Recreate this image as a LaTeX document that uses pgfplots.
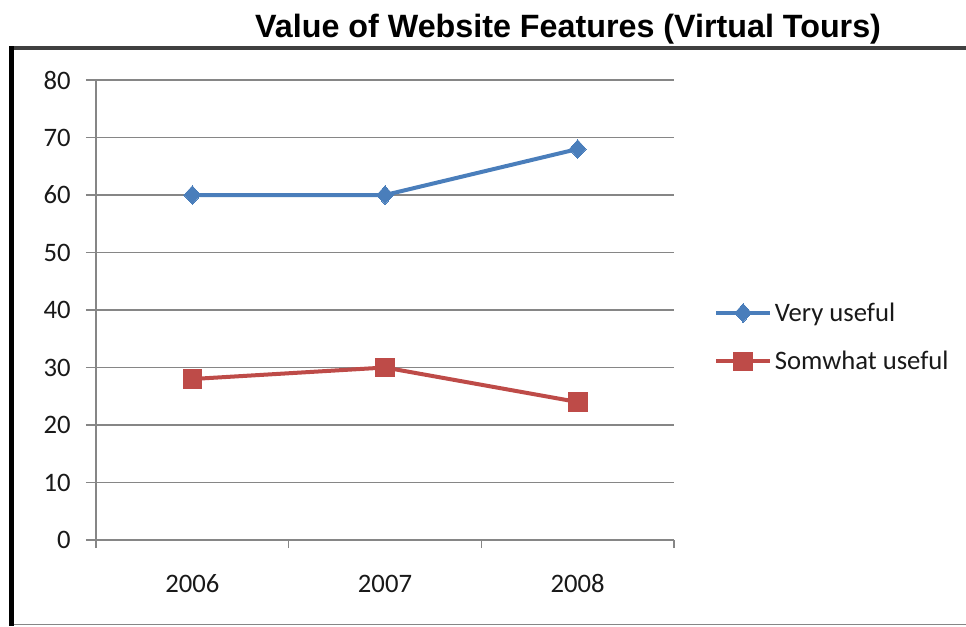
\documentclass[border=0pt]{standalone}
\usepackage{pgfplots}
\pgfplotsset{compat=1.18}
\usepackage{fontspec}
\setmainfont{Carlito}
\newfontfamily\arialfont{Liberation Sans}
\definecolor{vblue}{HTML}{4A7EBB}
\definecolor{sred}{HTML}{BE4B48}
\definecolor{gridgray}{HTML}{868686}
\begin{document}
\begin{tikzpicture}
\path[use as bounding box] (0,0) rectangle (724.5pt,-469.5pt);
% frame
\draw[line width=3pt, color=black!75] (7.5pt,-36pt) -- (724.5pt,-36pt);
\draw[line width=4pt, color=black] (8.5pt,-34.5pt) -- (8.5pt,-469.5pt);
\draw[line width=1pt, color=gridgray] (10.5pt,-468.5pt) -- (724.5pt,-468.5pt);
\node[font=\arialfont\bfseries\fontsize{24.2}{28}\selectfont, anchor=base west, inner sep=0pt] at (191.2pt,-27.75pt) {Value of Website Features (Virtual Tours)};
\begin{axis}[
  at={(72pt,-405pt)}, anchor=south west,
  scale only axis, width=433.5pt, height=345pt,
  xmin=0.5, xmax=3.5, ymin=0, ymax=80,
  axis x line=bottom, axis y line=left,
  axis line style={gridgray, line width=0.8pt, -},
  xtick={1,2,3}, xticklabels={2006,2007,2008},
  major x tick style={draw=none},
  minor xtick={0.5,1.5,2.5,3.5},
  minor x tick style={gridgray, line width=0.8pt},
  minor tick length=6pt,
  ytick={0,10,...,80},
  major y tick style={gridgray, line width=0.8pt},
  major tick length=7.5pt,
  tick align=outside,
  ymajorgrids, grid style={gridgray, line width=0.8pt},
  /pgf/number format/assume math mode=true,
  tick label style={font=\fontsize{20}{24}\selectfont, text=black!90},
  yticklabel style={xshift=-8pt},
  xticklabel style={yshift=-15pt},
  legend style={at={(1.069,0.441)}, anchor=west, draw=none, fill=none,
    font=\fontsize{20}{24}\selectfont, row sep=17pt, inner sep=0pt,
    nodes={inner sep=2pt, text=black!90}},
  legend cell align=left,
  legend image code/.code={\draw[mark repeat=2,mark phase=2,#1] plot coordinates {(0pt,0pt)(20.25pt,0pt)(40.5pt,0pt)};},
  clip=false,
]
\addplot[vblue, line width=3pt, mark=diamond*, mark size=7pt, mark options={solid, xscale=1.2, line width=0pt}]
  coordinates {(1,60) (2,60) (3,68)};
\addlegendentry{Very useful}
\addplot[sred, line width=3pt, mark=square*, mark size=7pt, mark options={solid, line width=0pt}]
  coordinates {(1,28) (2,30) (3,24)};
\addlegendentry{Somwhat useful}
\end{axis}
\end{tikzpicture}
\end{document}
